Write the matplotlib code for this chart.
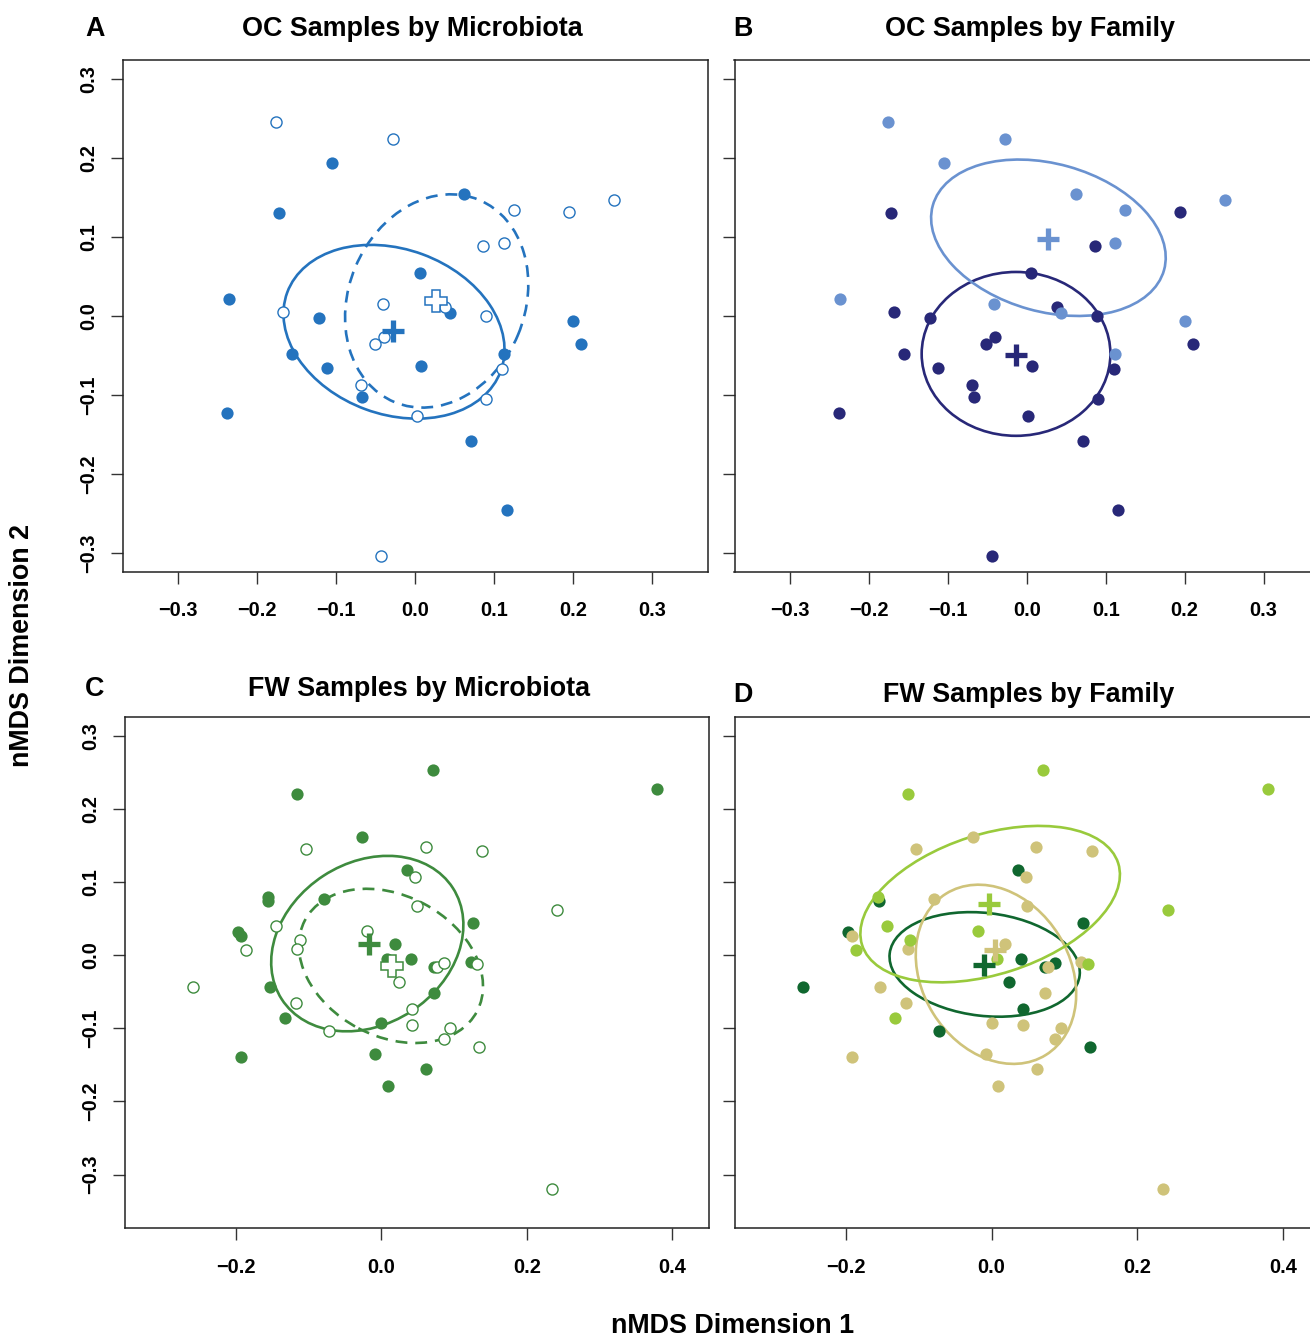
import numpy as np
import matplotlib
matplotlib.use("Agg")
import matplotlib.pyplot as plt
from matplotlib.patches import Ellipse

plt.rcParams['font.family'] = ['Liberation Sans', 'DejaVu Sans']
plt.rcParams['font.weight'] = 'bold'

# ---------------- OC samples (panels A, B) ----------------
oc_x = [-0.176, -0.028, -0.105, 0.062, 0.125, 0.194, 0.251, -0.172, 0.086, 0.112,
        0.006, -0.236, -0.168, -0.041, 0.038, 0.044, 0.089, -0.122, 0.200, 0.210,
        -0.040, -0.051, -0.156, -0.112, 0.007, 0.112, 0.110, -0.069, -0.067, 0.090,
        0.002, -0.238, 0.071, 0.116, -0.044]
oc_y = [0.245, 0.224, 0.193, 0.155, 0.134, 0.132, 0.147, 0.130, 0.089, 0.092,
        0.055, 0.021, 0.005, 0.015, 0.011, 0.004, 0.000, -0.002, -0.007, -0.036,
        -0.027, -0.035, -0.048, -0.066, -0.063, -0.048, -0.067, -0.088, -0.102, -0.105,
        -0.126, -0.123, -0.158, -0.245, -0.304]
oc_microbiota = ['M2', 'M2', 'M1', 'M1', 'M2', 'M2', 'M2', 'M1', 'M2', 'M2',
                 'M1', 'M1', 'M2', 'M2', 'M2', 'M1', 'M2', 'M1', 'M1', 'M1',
                 'M2', 'M2', 'M1', 'M1', 'M1', 'M1', 'M2', 'M2', 'M1', 'M2',
                 'M2', 'M1', 'M1', 'M1', 'M2']
oc_family = ['F1', 'F1', 'F1', 'F1', 'F1', 'F2', 'F1', 'F2', 'F2', 'F1',
             'F2', 'F1', 'F2', 'F1', 'F2', 'F1', 'F2', 'F2', 'F1', 'F2',
             'F2', 'F2', 'F2', 'F2', 'F2', 'F1', 'F2', 'F2', 'F2', 'F2',
             'F2', 'F2', 'F2', 'F2', 'F2']

# group centroids (crosses) and dispersion ellipses: center, semi-axes, angle
oc_micro_groups = ['M1', 'M2']
oc_micro_cent_x = [-0.028, 0.026]
oc_micro_cent_y = [-0.019, 0.019]
oc_micro_ell_cx = [-0.027, 0.027]
oc_micro_ell_cy = [-0.020, 0.019]
oc_micro_ell_a = [0.144, 0.1387]
oc_micro_ell_b = [0.1045, 0.1115]
oc_micro_ell_ang = [-20.2, 67.3]

oc_fam_groups = ['F2', 'F1']
oc_fam_cent_x = [-0.014, 0.027]
oc_fam_cent_y = [-0.049, 0.098]
oc_fam_ell_cx = [-0.0135, 0.0275]
oc_fam_ell_cy = [-0.048, 0.099]
oc_fam_ell_a = [0.1195, 0.152]
oc_fam_ell_b = [0.1037, 0.0936]
oc_fam_ell_ang = [0.0, -15.6]

# ---------------- FW samples (panels C, D) ----------------
fw_x = [0.071, 0.379, -0.115, -0.026, -0.103, 0.061, 0.138, 0.036, 0.047, -0.156,
        -0.155, -0.079, 0.049, 0.242, 0.126, -0.144, -0.197, -0.192, -0.019, -0.112,
        -0.115, -0.186, 0.019, 0.008, 0.041, 0.073, 0.077, 0.087, 0.123, 0.132,
        -0.258, -0.153, -0.117, -0.132, 0.024, 0.073, 0.043, -0.072, 0.000, 0.043,
        0.095, 0.087, 0.135, -0.192, -0.008, 0.062, 0.009, 0.235]
fw_y = [0.254, 0.228, 0.220, 0.162, 0.145, 0.148, 0.142, 0.117, 0.107, 0.080,
        0.074, 0.077, 0.067, 0.062, 0.044, 0.040, 0.032, 0.026, 0.033, 0.021,
        0.009, 0.007, 0.015, -0.005, -0.005, -0.016, -0.016, -0.010, -0.009, -0.012,
        -0.044, -0.043, -0.065, -0.086, -0.036, -0.052, -0.073, -0.103, -0.093, -0.096,
        -0.099, -0.115, -0.126, -0.139, -0.135, -0.156, -0.179, -0.320]
fw_microbiota = ['M1', 'M1', 'M1', 'M1', 'M2', 'M2', 'M2', 'M1', 'M2', 'M1',
                 'M1', 'M1', 'M2', 'M2', 'M1', 'M2', 'M1', 'M1', 'M2', 'M2',
                 'M2', 'M2', 'M1', 'M1', 'M1', 'M1', 'M2', 'M2', 'M1', 'M2',
                 'M2', 'M1', 'M2', 'M1', 'M2', 'M1', 'M2', 'M2', 'M1', 'M2',
                 'M2', 'M2', 'M2', 'M1', 'M1', 'M1', 'M1', 'M2']
fw_family = ['Fa', 'Fa', 'Fa', 'Fb', 'Fb', 'Fb', 'Fb', 'Fc', 'Fb', 'Fa',
             'Fc', 'Fb', 'Fb', 'Fa', 'Fc', 'Fa', 'Fc', 'Fb', 'Fa', 'Fa',
             'Fb', 'Fa', 'Fb', 'Fa', 'Fc', 'Fc', 'Fb', 'Fc', 'Fb', 'Fa',
             'Fc', 'Fb', 'Fb', 'Fa', 'Fc', 'Fb', 'Fc', 'Fc', 'Fb', 'Fb',
             'Fb', 'Fb', 'Fc', 'Fb', 'Fb', 'Fb', 'Fb', 'Fb']

fw_micro_groups = ['M1', 'M2']
fw_micro_cent_x = [-0.017, 0.015]
fw_micro_cent_y = [0.016, -0.015]
fw_micro_ell_cx = [-0.019, 0.0135]
fw_micro_ell_cy = [0.016, -0.0145]
fw_micro_ell_a = [0.140, 0.1336]
fw_micro_ell_b = [0.1106, 0.0963]
fw_micro_ell_ang = [32.9, -27.7]

fw_fam_groups = ['Fc', 'Fb', 'Fa']
fw_fam_cent_x = [-0.010, 0.005, -0.004]
fw_fam_cent_y = [-0.013, 0.007, 0.070]
fw_fam_ell_cx = [-0.0095, 0.006, -0.002]
fw_fam_ell_cy = [-0.0125, -0.026, 0.070]
fw_fam_ell_a = [0.1311, 0.1298, 0.1843]
fw_fam_ell_b = [0.0704, 0.1014, 0.0957]
fw_fam_ell_ang = [-6.6, -58.2, 17.7]

ab_ticks = [-0.3, -0.2, -0.1, 0.0, 0.1, 0.2, 0.3]
cd_xticks = [-0.2, 0.0, 0.2, 0.4]
cd_yticks = [-0.3, -0.2, -0.1, 0.0, 0.1, 0.2, 0.3]

# ---------------- styling ----------------
BLUE = '#2473BE'
GREEN = '#3E8B3E'
OC_FAM_COL = {'F1': '#6A92D0', 'F2': '#282878'}
FW_FAM_COL = {'Fa': '#99CA3C', 'Fb': '#CFC37A', 'Fc': '#10672F'}

W, H = 1310, 1339
fig = plt.figure(figsize=(W / 100, H / 100), dpi=100)


def add_ax(x0, y0, x1, y1):
    return fig.add_axes([x0 / W, 1 - y1 / H, (x1 - x0) / W, (y1 - y0) / H])


def fmt(v):
    s = f"{abs(v):.1f}"
    return ('\u2212' + s) if v < -1e-9 else s


def style_axes(ax, xticks, yticks, xlim, ylim, ylabels=True):
    ax.set_xlim(*xlim)
    ax.set_ylim(*ylim)
    ax.set_xticks(xticks, [fmt(v) for v in xticks])
    if ylabels:
        ax.set_yticks(yticks, [fmt(v) for v in yticks], rotation=90, va='center')
    else:
        ax.set_yticks(yticks, [''] * len(yticks))
    ax.tick_params(axis='both', direction='out', length=8.6, width=1.0,
                   color='#333333', labelsize=14.4, labelcolor='black')
    ax.tick_params(axis='x', pad=12.5)
    ax.tick_params(axis='y', pad=9)
    for lbl in ax.get_xticklabels() + ax.get_yticklabels():
        lbl.set_fontweight('bold')
    for sp in ax.spines.values():
        sp.set_linewidth(1.1)
        sp.set_color('#222222')


def draw_ellipses(ax, cx, cy, a, b, ang, colors, styles):
    for i in range(len(cx)):
        e = Ellipse((cx[i], cy[i]), 2 * a[i], 2 * b[i], angle=ang[i], fill=False,
                    ec=colors[i], lw=1.9, ls=styles[i], zorder=2)
        ax.add_patch(e)


def draw_points(ax, x, y, mask, color, filled, z):
    x = np.asarray(x)[mask]
    y = np.asarray(y)[mask]
    if filled:
        ax.plot(x, y, 'o', ms=8.8, mfc=color, mec=color, mew=0.0, ls='none', zorder=z)
    else:
        ax.plot(x, y, 'o', ms=8.0, mfc='white', mec=color, mew=1.0, ls='none', zorder=z)


def draw_cross(ax, x, y, color, filled):
    if filled:
        ax.plot([x], [y], marker='+', ms=16, mew=3.8, color=color, ls='none', zorder=8)
    else:
        ax.plot([x], [y], marker='P', ms=16.5, mfc='white', mec=color, mew=1.1,
                ls='none', zorder=8)


DASH = (0, (4.5, 3))

# ---------------- Panel A ----------------
axA = add_ax(122.6, 60, 707.7, 571.7)
style_axes(axA, ab_ticks, ab_ticks, (-0.3705, 0.370), (-0.3237, 0.324))
draw_ellipses(axA, oc_micro_ell_cx, oc_micro_ell_cy, oc_micro_ell_a, oc_micro_ell_b,
              oc_micro_ell_ang, [BLUE, BLUE], ['-', DASH])
micro = np.array(oc_microbiota)
draw_points(axA, oc_x, oc_y, micro == 'M1', BLUE, True, 3)
draw_points(axA, oc_x, oc_y, micro == 'M2', BLUE, False, 4)
for g, cxv, cyv in zip(oc_micro_groups, oc_micro_cent_x, oc_micro_cent_y):
    draw_cross(axA, cxv, cyv, BLUE, g == 'M1')

# ---------------- Panel B ----------------
axB = add_ax(734.5, 60, 1311, 571.7)
style_axes(axB, ab_ticks, ab_ticks, (-0.370, 0.360), (-0.3237, 0.324), ylabels=False)
draw_ellipses(axB, oc_fam_ell_cx, oc_fam_ell_cy, oc_fam_ell_a, oc_fam_ell_b,
              oc_fam_ell_ang, [OC_FAM_COL[g] for g in oc_fam_groups], ['-', '-'])
fam = np.array(oc_family)
for z, g in enumerate(oc_fam_groups):
    draw_points(axB, oc_x, oc_y, fam == g, OC_FAM_COL[g], True, 3 + z)
for g, cxv, cyv in zip(oc_fam_groups, oc_fam_cent_x, oc_fam_cent_y):
    draw_cross(axB, cxv, cyv, OC_FAM_COL[g], True)

# ---------------- Panel C ----------------
axC = add_ax(124.5, 717, 708.5, 1228.3)
style_axes(axC, cd_xticks, cd_yticks, (-0.3525, 0.4497), (-0.3735, 0.326))
draw_ellipses(axC, fw_micro_ell_cx, fw_micro_ell_cy, fw_micro_ell_a, fw_micro_ell_b,
              fw_micro_ell_ang, [GREEN, GREEN], ['-', DASH])
fmic = np.array(fw_microbiota)
draw_points(axC, fw_x, fw_y, fmic == 'M1', GREEN, True, 3)
draw_points(axC, fw_x, fw_y, fmic == 'M2', GREEN, False, 4)
for g, cxv, cyv in zip(fw_micro_groups, fw_micro_cent_x, fw_micro_cent_y):
    draw_cross(axC, cxv, cyv, GREEN, g == 'M1')

# ---------------- Panel D ----------------
axD = add_ax(735.2, 717, 1311, 1228.3)
style_axes(axD, cd_xticks, cd_yticks, (-0.3516, 0.438), (-0.3735, 0.326), ylabels=False)
draw_ellipses(axD, fw_fam_ell_cx, fw_fam_ell_cy, fw_fam_ell_a, fw_fam_ell_b,
              fw_fam_ell_ang, [FW_FAM_COL[g] for g in fw_fam_groups], ['-', '-', '-'])
ffam = np.array(fw_family)
for z, g in enumerate(fw_fam_groups):
    draw_points(axD, fw_x, fw_y, ffam == g, FW_FAM_COL[g], True, 3 + z)
for g, cxv, cyv in zip(fw_fam_groups, fw_fam_cent_x, fw_fam_cent_y):
    draw_cross(axD, cxv, cyv, FW_FAM_COL[g], True)

# ---------------- Text ----------------
TS = 19.4


def ftext(px, py, s, **kw):
    fig.text(px / W, 1 - py / H, s, fontsize=TS, fontweight='bold', **kw)


ftext(412.5, 36, 'OC Samples by Microbiota', ha='center', va='baseline')
ftext(1030, 36, 'OC Samples by Family', ha='center', va='baseline')
ftext(419, 696, 'FW Samples by Microbiota', ha='center', va='baseline')
ftext(1029, 702, 'FW Samples by Family', ha='center', va='baseline')
ftext(95, 36, 'A', ha='center', va='baseline')
ftext(743, 36, 'B', ha='center', va='baseline')
ftext(95, 696, 'C', ha='center', va='baseline')
ftext(743, 702, 'D', ha='center', va='baseline')
ftext(733, 1333, 'nMDS Dimension 1', ha='center', va='baseline')
ftext(22, 645, 'nMDS Dimension 2', ha='center', va='center', rotation=90)

fig.savefig('out.png', dpi=100)
